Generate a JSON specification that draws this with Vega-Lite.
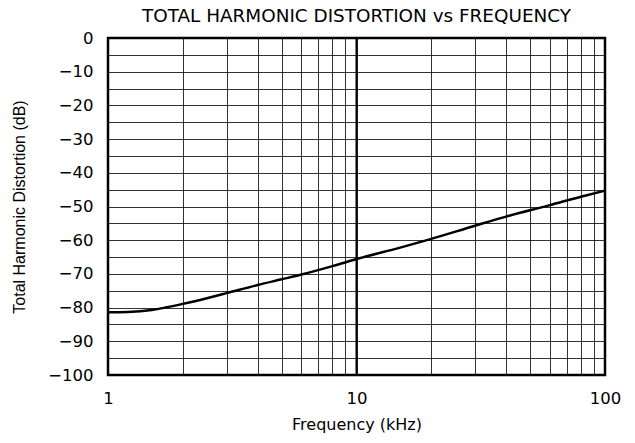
{
  "$schema": "https://vega.github.io/schema/vega-lite/v6.json",
  "width": 497,
  "height": 337,
  "autosize": {"type": "none"},
  "padding": {"left": 108, "top": 38, "right": 30, "bottom": 68},
  "background": "white",
  "title": {
    "text": "TOTAL HARMONIC DISTORTION vs FREQUENCY",
    "font": "DejaVu Sans",
    "fontSize": 18.4,
    "fontWeight": "normal",
    "color": "#000",
    "anchor": "middle",
    "offset": 5
  },
  "config": {
    "view": {"stroke": "#000", "strokeWidth": 2.5},
    "axis": {
      "labelFont": "DejaVu Sans",
      "titleFont": "DejaVu Sans",
      "labelFontSize": 16.5,
      "titleFontSize": 16,
      "titleFontWeight": "normal",
      "labelColor": "#000",
      "titleColor": "#000",
      "domain": false,
      "ticks": false,
      "grid": true,
      "gridColor": "#000",
      "gridOpacity": 0.8,
      "gridWidth": 1,
      "labelFlush": false
    }
  },
  "data": {
    "values": [
      {"f": 1, "thd": -81.4},
      {"f": 1.2, "thd": -81.3},
      {"f": 1.5, "thd": -80.7},
      {"f": 1.7, "thd": -80.0},
      {"f": 2, "thd": -78.9},
      {"f": 2.5, "thd": -77.2},
      {"f": 3, "thd": -75.7},
      {"f": 4, "thd": -73.3},
      {"f": 5, "thd": -71.6},
      {"f": 6, "thd": -70.2},
      {"f": 8, "thd": -67.7},
      {"f": 10, "thd": -65.6},
      {"f": 15, "thd": -62.2},
      {"f": 20, "thd": -59.6},
      {"f": 30, "thd": -55.7},
      {"f": 40, "thd": -53.0},
      {"f": 60, "thd": -49.6},
      {"f": 80, "thd": -47.1},
      {"f": 100, "thd": -45.3}
    ]
  },
  "layer": [
    {
      "data": {"values": [{"f": 10}]},
      "mark": {"type": "rule", "color": "#000", "strokeWidth": 2},
      "encoding": {
        "x": {"field": "f", "type": "quantitative", "scale": {"type": "log", "domain": [1, 100]}}
      }
    },
    {
      "mark": {"type": "line", "color": "#000", "strokeWidth": 2.5, "interpolate": "monotone"},
      "encoding": {
        "x": {
          "field": "f",
          "type": "quantitative",
          "title": "Frequency (kHz)",
          "scale": {"type": "log", "domain": [1, 100], "nice": false},
          "axis": {
            "values": [1, 2, 3, 4, 5, 6, 7, 8, 9, 10, 20, 30, 40, 50, 60, 70, 80, 90, 100],
            "labelExpr": "datum.value == 1 || datum.value == 10 || datum.value == 100 ? datum.value : ''",
            "labelPadding": 15,
            "titlePadding": 10
          }
        },
        "y": {
          "field": "thd",
          "type": "quantitative",
          "title": "Total Harmonic Distortion (dB)",
          "scale": {"domain": [-100, 0], "nice": false},
          "axis": {
            "values": [-100, -95, -90, -85, -80, -75, -70, -65, -60, -55, -50, -45, -40, -35, -30, -25, -20, -15, -10, -5, 0],
            "labelExpr": "datum.value % 10 == 0 ? datum.label : ''",
            "labelPadding": 15,
            "titleFont": "Liberation Sans",
            "titlePadding": 20
          }
        }
      }
    }
  ]
}
